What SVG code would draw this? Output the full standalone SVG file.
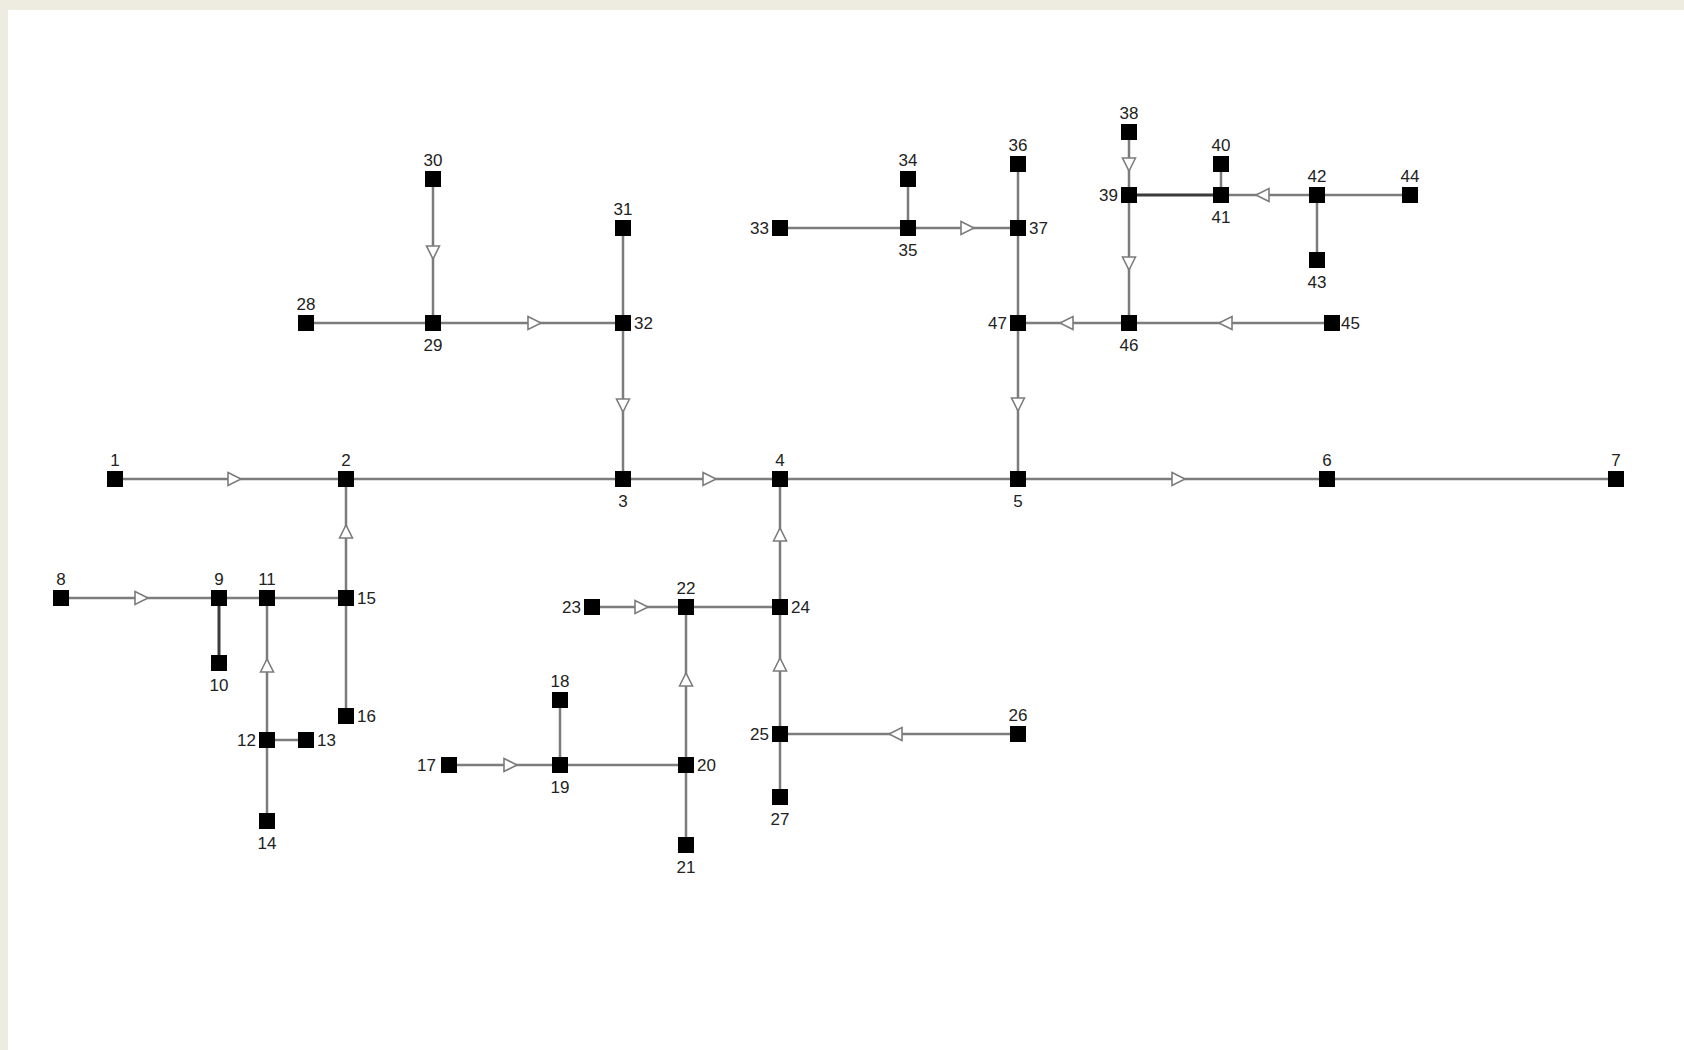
<svg xmlns="http://www.w3.org/2000/svg" xmlns:xlink="http://www.w3.org/1999/xlink" width="1684" height="1050" viewBox="0 0 1684 1050">
<style>
.e{stroke:#7c7c7c;stroke-width:2.5;fill:none}
.d{stroke:#3a3a3a;stroke-width:3}
.n{fill:#000}
.a{fill:#fff;stroke:#7c7c7c;stroke-width:1.6}
text{font-family:"Liberation Sans",Arial,sans-serif;font-size:17px;fill:#222}
.m{text-anchor:middle}
.r{text-anchor:end}
</style>
<defs>
<path id="arr" d="M-6,-6.5 L7,0 L-6,6.5 Z"/>
<rect id="sq" x="-8" y="-8" width="16" height="16"/>
</defs>
<rect width="1684" height="1050" fill="#fff"/>
<rect width="1684" height="10" fill="#eeebe0"/>
<rect width="8" height="1050" fill="#eeebe0"/>
<g id="connectors">
<path class="e" d="M115,479H1616"/>
<path class="e" d="M346,479V598M61,598H346M267,598V821M267,740H306M346,598V716"/>
<path class="e d" d="M219,598V663"/>
<path class="e" d="M623,479V228M306,323H623M433,323V179"/>
<path class="e" d="M780,479V797M780,607H592M686,607V845M686,765H449M560,765V700M780,734H1018"/>
<path class="e" d="M1018,479V164M1018,228H780M908,228V179M1018,323H1332M1129,323V132M1221,195H1410M1221,195V164M1317,195V260"/>
<path class="e d" d="M1129,195H1221"/>
<g class="a">
<use xlink:href="#arr" transform="translate(234,479)"/>
<use xlink:href="#arr" transform="translate(709,479)"/>
<use xlink:href="#arr" transform="translate(1178,479)"/>
<use xlink:href="#arr" transform="translate(346,532) rotate(-90)"/>
<use xlink:href="#arr" transform="translate(141,598)"/>
<use xlink:href="#arr" transform="translate(267,666) rotate(-90)"/>
<use xlink:href="#arr" transform="translate(534,323)"/>
<use xlink:href="#arr" transform="translate(433,252) rotate(90)"/>
<use xlink:href="#arr" transform="translate(623,405) rotate(90)"/>
<use xlink:href="#arr" transform="translate(641,607)"/>
<use xlink:href="#arr" transform="translate(686,680) rotate(-90)"/>
<use xlink:href="#arr" transform="translate(780,665) rotate(-90)"/>
<use xlink:href="#arr" transform="translate(780,535) rotate(-90)"/>
<use xlink:href="#arr" transform="translate(896,734) rotate(180)"/>
<use xlink:href="#arr" transform="translate(510,765)"/>
<use xlink:href="#arr" transform="translate(967,228)"/>
<use xlink:href="#arr" transform="translate(1018,404) rotate(90)"/>
<use xlink:href="#arr" transform="translate(1067,323) rotate(180)"/>
<use xlink:href="#arr" transform="translate(1226,323) rotate(180)"/>
<use xlink:href="#arr" transform="translate(1129,263) rotate(90)"/>
<use xlink:href="#arr" transform="translate(1129,164) rotate(90)"/>
<use xlink:href="#arr" transform="translate(1263,195) rotate(180)"/>
</g>
</g>
<g id="n1"><use class="n" xlink:href="#sq" x="115" y="479"/><text class="m" x="115" y="466">1</text></g>
<g id="n2"><use class="n" xlink:href="#sq" x="346" y="479"/><text class="m" x="346" y="466">2</text></g>
<g id="n3"><use class="n" xlink:href="#sq" x="623" y="479"/><text class="m" x="623" y="507">3</text></g>
<g id="n4"><use class="n" xlink:href="#sq" x="780" y="479"/><text class="m" x="780" y="466">4</text></g>
<g id="n5"><use class="n" xlink:href="#sq" x="1018" y="479"/><text class="m" x="1018" y="507">5</text></g>
<g id="n6"><use class="n" xlink:href="#sq" x="1327" y="479"/><text class="m" x="1327" y="466">6</text></g>
<g id="n7"><use class="n" xlink:href="#sq" x="1616" y="479"/><text class="m" x="1616" y="466">7</text></g>
<g id="n8"><use class="n" xlink:href="#sq" x="61" y="598"/><text class="m" x="61" y="585">8</text></g>
<g id="n9"><use class="n" xlink:href="#sq" x="219" y="598"/><text class="m" x="219" y="585">9</text></g>
<g id="n10"><use class="n" xlink:href="#sq" x="219" y="663"/><text class="m" x="219" y="691">10</text></g>
<g id="n11"><use class="n" xlink:href="#sq" x="267" y="598"/><text class="m" x="267" y="585">11</text></g>
<g id="n12"><use class="n" xlink:href="#sq" x="267" y="740"/><text class="r" x="256" y="746">12</text></g>
<g id="n13"><use class="n" xlink:href="#sq" x="306" y="740"/><text x="317" y="746">13</text></g>
<g id="n14"><use class="n" xlink:href="#sq" x="267" y="821"/><text class="m" x="267" y="849">14</text></g>
<g id="n15"><use class="n" xlink:href="#sq" x="346" y="598"/><text x="357" y="604">15</text></g>
<g id="n16"><use class="n" xlink:href="#sq" x="346" y="716"/><text x="357" y="722">16</text></g>
<g id="n17"><use class="n" xlink:href="#sq" x="449" y="765"/><text class="r" x="436" y="771">17</text></g>
<g id="n18"><use class="n" xlink:href="#sq" x="560" y="700"/><text class="m" x="560" y="687">18</text></g>
<g id="n19"><use class="n" xlink:href="#sq" x="560" y="765"/><text class="m" x="560" y="793">19</text></g>
<g id="n20"><use class="n" xlink:href="#sq" x="686" y="765"/><text x="697" y="771">20</text></g>
<g id="n21"><use class="n" xlink:href="#sq" x="686" y="845"/><text class="m" x="686" y="873">21</text></g>
<g id="n22"><use class="n" xlink:href="#sq" x="686" y="607"/><text class="m" x="686" y="594">22</text></g>
<g id="n23"><use class="n" xlink:href="#sq" x="592" y="607"/><text class="r" x="581" y="613">23</text></g>
<g id="n24"><use class="n" xlink:href="#sq" x="780" y="607"/><text x="791" y="613">24</text></g>
<g id="n25"><use class="n" xlink:href="#sq" x="780" y="734"/><text class="r" x="769" y="740">25</text></g>
<g id="n26"><use class="n" xlink:href="#sq" x="1018" y="734"/><text class="m" x="1018" y="721">26</text></g>
<g id="n27"><use class="n" xlink:href="#sq" x="780" y="797"/><text class="m" x="780" y="825">27</text></g>
<g id="n28"><use class="n" xlink:href="#sq" x="306" y="323"/><text class="m" x="306" y="310">28</text></g>
<g id="n29"><use class="n" xlink:href="#sq" x="433" y="323"/><text class="m" x="433" y="351">29</text></g>
<g id="n30"><use class="n" xlink:href="#sq" x="433" y="179"/><text class="m" x="433" y="166">30</text></g>
<g id="n31"><use class="n" xlink:href="#sq" x="623" y="228"/><text class="m" x="623" y="215">31</text></g>
<g id="n32"><use class="n" xlink:href="#sq" x="623" y="323"/><text x="634" y="329">32</text></g>
<g id="n33"><use class="n" xlink:href="#sq" x="780" y="228"/><text class="r" x="769" y="234">33</text></g>
<g id="n34"><use class="n" xlink:href="#sq" x="908" y="179"/><text class="m" x="908" y="166">34</text></g>
<g id="n35"><use class="n" xlink:href="#sq" x="908" y="228"/><text class="m" x="908" y="256">35</text></g>
<g id="n36"><use class="n" xlink:href="#sq" x="1018" y="164"/><text class="m" x="1018" y="151">36</text></g>
<g id="n37"><use class="n" xlink:href="#sq" x="1018" y="228"/><text x="1029" y="234">37</text></g>
<g id="n38"><use class="n" xlink:href="#sq" x="1129" y="132"/><text class="m" x="1129" y="119">38</text></g>
<g id="n39"><use class="n" xlink:href="#sq" x="1129" y="195"/><text class="r" x="1118" y="201">39</text></g>
<g id="n40"><use class="n" xlink:href="#sq" x="1221" y="164"/><text class="m" x="1221" y="151">40</text></g>
<g id="n41"><use class="n" xlink:href="#sq" x="1221" y="195"/><text class="m" x="1221" y="223">41</text></g>
<g id="n42"><use class="n" xlink:href="#sq" x="1317" y="195"/><text class="m" x="1317" y="182">42</text></g>
<g id="n43"><use class="n" xlink:href="#sq" x="1317" y="260"/><text class="m" x="1317" y="288">43</text></g>
<g id="n44"><use class="n" xlink:href="#sq" x="1410" y="195"/><text class="m" x="1410" y="182">44</text></g>
<g id="n45"><use class="n" xlink:href="#sq" x="1332" y="323"/><text x="1341" y="329">45</text></g>
<g id="n46"><use class="n" xlink:href="#sq" x="1129" y="323"/><text class="m" x="1129" y="351">46</text></g>
<g id="n47"><use class="n" xlink:href="#sq" x="1018" y="323"/><text class="r" x="1007" y="329">47</text></g>
</svg>
